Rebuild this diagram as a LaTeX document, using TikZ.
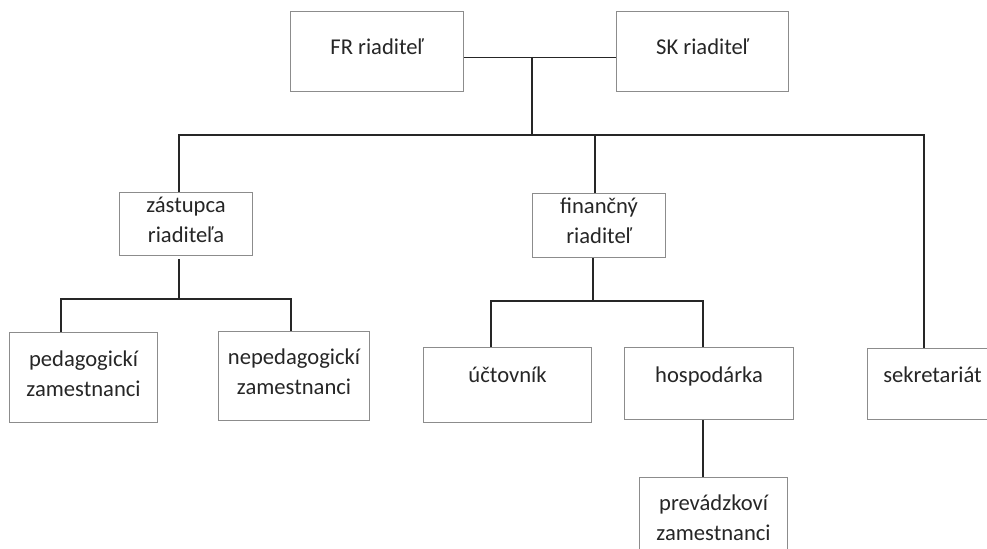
\documentclass[tikz,border=0pt]{standalone}
\usepackage{fontspec}
\setmainfont{Carlito}
\usepackage{tikz}
\usetikzlibrary{calc}
\definecolor{boxgray}{RGB}{140,140,140}
\definecolor{inkgray}{RGB}{38,38,38}
\newcommand\busy{135}

\begin{document}
\begin{tikzpicture}[x=0.5pt, y=-0.5pt,
  post/.style={draw=boxgray, line width=0.55pt, inner sep=0pt, align=flush center, anchor=north west,
               text=inkgray, font=\fontsize{11.3}{15}\selectfont},
  link/.style={draw=black!85, line width=0.7pt}]

\clip (0,0) rectangle (987,549);
\fill[white] (0,0) rectangle (987,549);

% top
\node[post, text width=86.5pt, text height=21.5pt, text depth=18.5pt] (fr) at (290,11) {FR riaditeľ};
\node[post, text width=86pt, text height=21.5pt, text depth=18.5pt] (sk) at (616,11) {SK riaditeľ};

% second level
\node[post, text width=66.5pt, text height=10pt, text depth=21.5pt] (zast) at (119,192) {zástupca\\riaditeľa};
\node[post, text width=66.5pt, text height=10pt, text depth=22pt] (fin) at (532,193) {finančný\\riaditeľ};

% third level
\node[post, text width=74pt, text height=17pt, text depth=28pt] (ped) at (9,332) {pedagogickí\\zamestnanci};
\node[post, text width=75.5pt, text height=16.5pt, text depth=28pt] (neped) at (218,331) {nepedagogickí\\zamestnanci};
\node[post, text width=84pt, text height=17.5pt, text depth=20pt] (uct) at (423,347) {účtovník};
\node[post, text width=84.5pt, text height=17.5pt, text depth=18.5pt] (hosp) at (624,347) {hospodárka};
\node[post, text width=65pt, text height=17pt, text depth=18.5pt] (sekr) at (867,348) {sekretariát};
\node[post, text width=74pt, text height=16.5pt, text depth=28.5pt] (prev) at (639,477) {prevádzkoví\\zamestnanci};

\coordinate (hub) at (532,57);
\coordinate (bus) at (532,\busy);
\coordinate (busL) at (179,\busy);
\coordinate (busR) at (924,\busy);
\coordinate (busF) at (595,\busy);

\draw[link] ([yshift=-3pt]fr.east) -- ([yshift=-3pt]sk.west);
\draw[link] (hub) -- (bus);
\draw[link] (busL |- zast.north) -- (busL) -- (busR) -- (busR |- sekr.north);
\draw[link] (busF) -- (busF |- fin.north);

% zastupca
\coordinate (zdrop) at (179,299);
\coordinate (zL) at (61,299);
\coordinate (zR) at (291,299);
\draw[link] ([yshift=-1.5pt]zdrop |- zast.south) -- (zdrop);
\draw[link] (zL |- ped.north) -- (zL) -- (zR) -- (zR |- neped.north);

% financny
\coordinate (fdrop) at (593,301);
\coordinate (fL) at (491,301);
\coordinate (fR) at (703,301);
\draw[link] (fdrop |- fin.south) -- (fdrop);
\draw[link] (fL |- uct.north) -- (fL) -- (fR) -- (fR |- hosp.north);

\coordinate (hdrop) at (703,0);
\draw[link] (hdrop |- hosp.south) -- (hdrop |- prev.north);

\end{tikzpicture}
\end{document}
